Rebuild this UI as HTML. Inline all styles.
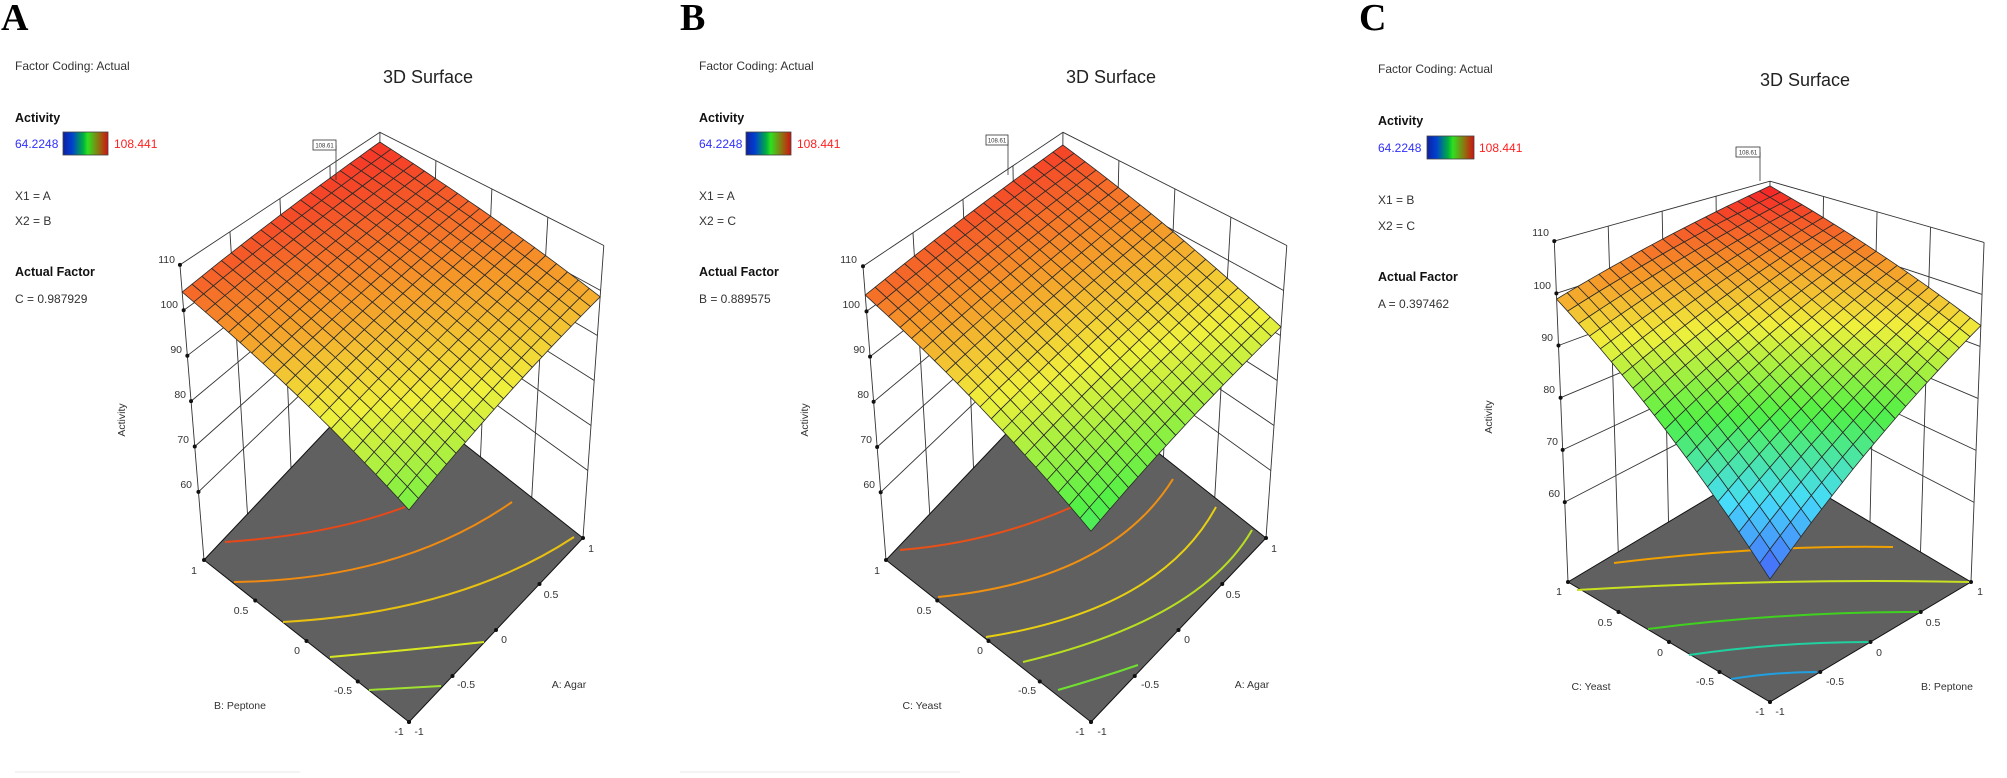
<!DOCTYPE html>
<html><head><meta charset="utf-8"><style>
body{margin:0;background:#fff;}
svg{display:block;font-family:"Liberation Sans",sans-serif;}
.t{font-size:12px;fill:#333}
.b{font-size:12.5px;font-weight:bold;fill:#111}
.tk{font-size:10.5px;fill:#333}
.ti{font-size:18px;fill:#222}
.L{font-family:"Liberation Serif",serif;font-weight:bold;font-size:38px;fill:#000}
</style></head><body>
<svg id="s" width="2007" height="778" viewBox="0 0 2007 778" xmlns="http://www.w3.org/2000/svg">
<defs>
<linearGradient id="cb" x1="0" x2="1" y1="0" y2="0">
<stop offset="0" stop-color="#1020a0"/><stop offset="0.2" stop-color="#0040d0"/><stop offset="0.45" stop-color="#00b040"/><stop offset="0.55" stop-color="#30e020"/><stop offset="0.8" stop-color="#907010"/><stop offset="1" stop-color="#d01010"/>
</linearGradient>
</defs>
<g id="pA"></g><g id="pB"></g><g id="pC"></g>

<!-- Panel A text -->
<text class="L" x="1" y="30">A</text>
<text class="t" x="15" y="70">Factor Coding: Actual</text>
<text class="ti" x="428" y="83" text-anchor="middle">3D Surface</text>
<text class="b" x="15" y="122">Activity</text>
<text class="t" x="15" y="148" style="fill:#3030ff">64.2248</text>
<rect x="63" y="132" width="45" height="23" fill="url(#cb)" stroke="#444" stroke-width="0.8"/>
<text class="t" x="114" y="148" style="fill:#ff2020">108.441</text>
<text class="t" x="15" y="200">X1 = A</text>
<text class="t" x="15" y="225">X2 = B</text>
<text class="b" x="15" y="276">Actual Factor</text>
<text class="t" x="15" y="303">C = 0.987929</text>
<text class="tk" transform="translate(125,420) rotate(-90)" text-anchor="middle">Activity</text>
<g class="tk" text-anchor="end">
<text x="175" y="263">110</text><text x="178" y="308">100</text><text x="182" y="353">90</text><text x="186" y="398">80</text><text x="189" y="443">70</text><text x="192" y="488">60</text>
</g>
<g class="tk" text-anchor="middle">
<text x="194" y="574">1</text><text x="241" y="614">0.5</text><text x="297" y="654">0</text><text x="343" y="694">-0.5</text><text x="399" y="735">-1</text>
<text x="419" y="735">-1</text><text x="466" y="688">-0.5</text><text x="504" y="643">0</text><text x="551" y="598">0.5</text><text x="591" y="552">1</text>
<text x="240" y="709">B: Peptone</text><text x="569" y="688">A: Agar</text>
</g>

<!-- Panel B text -->
<text class="L" x="680" y="30">B</text>
<text class="t" x="699" y="70">Factor Coding: Actual</text>
<text class="ti" x="1111" y="83" text-anchor="middle">3D Surface</text>
<text class="b" x="699" y="122">Activity</text>
<text class="t" x="699" y="148" style="fill:#3030ff">64.2248</text>
<rect x="746" y="132" width="45" height="23" fill="url(#cb)" stroke="#444" stroke-width="0.8"/>
<text class="t" x="797" y="148" style="fill:#ff2020">108.441</text>
<text class="t" x="699" y="200">X1 = A</text>
<text class="t" x="699" y="225">X2 = C</text>
<text class="b" x="699" y="276">Actual Factor</text>
<text class="t" x="699" y="303">B = 0.889575</text>
<text class="tk" transform="translate(808,420) rotate(-90)" text-anchor="middle">Activity</text>
<g class="tk" text-anchor="end">
<text x="857" y="263">110</text><text x="860" y="308">100</text><text x="865" y="353">90</text><text x="869" y="398">80</text><text x="872" y="443">70</text><text x="875" y="488">60</text>
</g>
<g class="tk" text-anchor="middle">
<text x="877" y="574">1</text><text x="924" y="614">0.5</text><text x="980" y="654">0</text><text x="1027" y="694">-0.5</text><text x="1080" y="735">-1</text>
<text x="1102" y="735">-1</text><text x="1150" y="688">-0.5</text><text x="1187" y="643">0</text><text x="1233" y="598">0.5</text><text x="1274" y="552">1</text>
<text x="922" y="709">C: Yeast</text><text x="1252" y="688">A: Agar</text>
</g>

<!-- Panel C text -->
<text class="L" x="1359" y="30">C</text>
<text class="t" x="1378" y="73">Factor Coding: Actual</text>
<text class="ti" x="1805" y="86" text-anchor="middle">3D Surface</text>
<text class="b" x="1378" y="125">Activity</text>
<text class="t" x="1378" y="152" style="fill:#3030ff">64.2248</text>
<rect x="1427" y="136" width="47" height="23" fill="url(#cb)" stroke="#444" stroke-width="0.8"/>
<text class="t" x="1479" y="152" style="fill:#ff2020">108.441</text>
<text class="t" x="1378" y="204">X1 = B</text>
<text class="t" x="1378" y="230">X2 = C</text>
<text class="b" x="1378" y="281">Actual Factor</text>
<text class="t" x="1378" y="308">A = 0.397462</text>
<text class="tk" transform="translate(1492,417) rotate(-90)" text-anchor="middle">Activity</text>
<g class="tk" text-anchor="end">
<text x="1549" y="236">110</text><text x="1551" y="289">100</text><text x="1553" y="341">90</text><text x="1555" y="393">80</text><text x="1558" y="445">70</text><text x="1560" y="497">60</text>
</g>
<g class="tk" text-anchor="middle">
<text x="1559" y="595">1</text><text x="1605" y="626">0.5</text><text x="1660" y="656">0</text><text x="1705" y="685">-0.5</text><text x="1760" y="715">-1</text>
<text x="1780" y="715">-1</text><text x="1835" y="685">-0.5</text><text x="1879" y="656">0</text><text x="1933" y="626">0.5</text><text x="1980" y="595">1</text>
<text x="1591" y="690">C: Yeast</text><text x="1947" y="690">B: Peptone</text>
</g>
<line x1="15" y1="772" x2="300" y2="772" stroke="#e8e8e8"/>
<line x1="680" y1="772" x2="960" y2="772" stroke="#e8e8e8"/>
</svg>
<script>
var NS="http://www.w3.org/2000/svg";
function el(g,tag,a){var e=document.createElementNS(NS,tag);for(var k in a)e.setAttribute(k,a[k]);g.appendChild(e);return e;}
var stops=[[0,[70,90,250]],[0.2,[70,220,250]],[0.42,[80,240,70]],[0.65,[240,240,60]],[0.82,[245,150,40]],[1,[245,40,40]]];
function col(v){var f=(v-64.2248)/(108.441-64.2248);f=Math.max(0,Math.min(1,f));
for(var i=1;i<stops.length;i++){if(f<=stops[i][0]){var a=stops[i-1],b=stops[i],u=(f-a[0])/(b[0]-a[0]);
return "rgb("+[0,1,2].map(function(j){return Math.round(a[1][j]+(b[1][j]-a[1][j])*u)}).join(",")+")";}}return "rgb(245,40,40)";}
function panel(id,c){
 var g=document.getElementById(id);
 function bl(s,t,arr){return arr[0]*(1-s)*(1-t)+arr[1]*s*(1-t)+arr[2]*s*t+arr[3]*(1-s)*t;}
 function P(s,t,z){var fx=bl(s,t,c.fx),fy=bl(s,t,c.fy),k=bl(s,t,c.k),ln=bl(s,t,c.ln);
  return [fx+ln*(z-c.zf),fy-k*(z-c.zf)];}
 function pts(a){return a.map(function(p){return p[0].toFixed(1)+","+p[1].toFixed(1)}).join(" ");}
 var st={stroke:"#333","stroke-width":"0.9",fill:"none"};
 var zs=[60,70,80,90,100,110];
 zs.forEach(function(z){el(g,"polyline",Object.assign({points:pts([P(0,1,z),P(1,1,z),P(1,0,z)])},st));});
 [0.25,0.5,0.75].forEach(function(u){
  el(g,"line",Object.assign({x1:P(u,1,c.zf)[0],y1:P(u,1,c.zf)[1],x2:P(u,1,110)[0],y2:P(u,1,110)[1]},st));
  el(g,"line",Object.assign({x1:P(1,u,c.zf)[0],y1:P(1,u,c.zf)[1],x2:P(1,u,110)[0],y2:P(1,u,110)[1]},st));});
 [[0,1],[1,1],[1,0]].forEach(function(q){var a=P(q[0],q[1],c.zf),b=P(q[0],q[1],110);
  el(g,"line",Object.assign({x1:a[0],y1:a[1],x2:b[0],y2:b[1]},st));});
 zs.forEach(function(z){var p=P(0,1,z);el(g,"circle",{cx:p[0],cy:p[1],r:2,fill:"#111"});});
 el(g,"polygon",{points:pts([P(0,0,c.zf),P(1,0,c.zf),P(1,1,c.zf),P(0,1,c.zf)]),fill:"#606060",stroke:"#111","stroke-width":"1"});
 c.cont.forEach(function(q){el(g,"path",{d:q[0],stroke:q[1],"stroke-width":"2",fill:"none"});});
 [0,0.25,0.5,0.75,1].forEach(function(u){var p=P(0,u,c.zf);el(g,"circle",{cx:p[0],cy:p[1],r:2,fill:"#111"});
  p=P(u,0,c.zf);el(g,"circle",{cx:p[0],cy:p[1],r:2,fill:"#111"});});
 function Z(s,t){return bl(s,t,c.z)+c.cv*(s*(1-s)+t*(1-t));}
 var N=20,cells=[];
 for(var i=0;i<N;i++)for(var j=0;j<N;j++)cells.push([i,j]);
 cells.sort(function(a,b){return (b[0]+b[1])-(a[0]+a[1]);});
 cells.forEach(function(cl){var s0=cl[0]/N,s1=(cl[0]+1)/N,t0=cl[1]/N,t1=(cl[1]+1)/N;
  var zc=Z((s0+s1)/2,(t0+t1)/2);
  el(g,"polygon",{points:pts([P(s0,t0,Z(s0,t0)),P(s1,t0,Z(s1,t0)),P(s1,t1,Z(s1,t1)),P(s0,t1,Z(s0,t1))]),fill:col(zc),stroke:"#2a2a2a","stroke-width":"0.8","stroke-linejoin":"round"});});
 var b=c.box;
 el(g,"line",{x1:b[0]+b[2],y1:b[1]+5,x2:b[0]+b[2],y2:b[3],stroke:"#333","stroke-width":"0.8"});
 el(g,"rect",{x:b[0],y:b[1],width:b[2],height:10,fill:"#fff",stroke:"#333","stroke-width":"0.8"});
 var tx=el(g,"text",{x:b[0]+b[2]/2,y:b[1]+7.5,"font-size":"6","text-anchor":"middle",fill:"#333"});tx.textContent="108.61";
}
panel("pA",{fx:[409,583,378,204],fy:[722,538,376,560],k:[5.3,4.5,3.75,4.54],ln:[0,0.32,0.03,-0.37],zf:45,
 z:[85,98.6,107.4,104],cv:1.5,box:[313,140,23,180],
 cont:[["M225,542 Q330,535 405,507","#e84818"],["M234,582 Q400,580 512,502","#f08a10"],["M283,622 Q460,612 574,537","#e8c010"],["M330,657 Q410,650 484,642","#d8e820"],["M369,690 Q405,688 441,686","#a0e030"]]});
panel("pB",{fx:[1091,1266,1061,886],fy:[722,538,376,560],k:[5.3,4.5,3.75,4.52],ln:[0,0.32,0.03,-0.354],zf:45,
 z:[81,91.9,106.6,103.6],cv:1.5,box:[986,135,22,175],
 cont:[["M900,550 Q990,543 1072,507","#e85018"],["M938,597 Q1110,580 1173,479","#f09010"],["M986,637 Q1160,610 1216,507","#e8d010"],["M1023,662 Q1200,620 1252,530","#b8e020"],["M1058,690 Q1100,678 1138,665","#70e030"]]});
panel("pC",{fx:[1770,1971,1769,1568],fy:[702,582,462,582],k:[6.2,5.2,4.3,5.22],ln:[0,0.2,0.015,-0.21],zf:44.7,
 z:[64.5,94,108.9,98.9],cv:1,box:[1736,147,24,181],
 cont:[["M1614,563 Q1760,545 1893,547","#f0a000"],["M1577,590 Q1780,578 1970,582","#c8e020"],["M1648,629 Q1780,612 1919,612","#40d020"],["M1689,655 Q1780,642 1869,642","#20d0a0"],["M1731,679 Q1775,672 1817,672","#20a0e0"]]});
</script>
</body></html>
